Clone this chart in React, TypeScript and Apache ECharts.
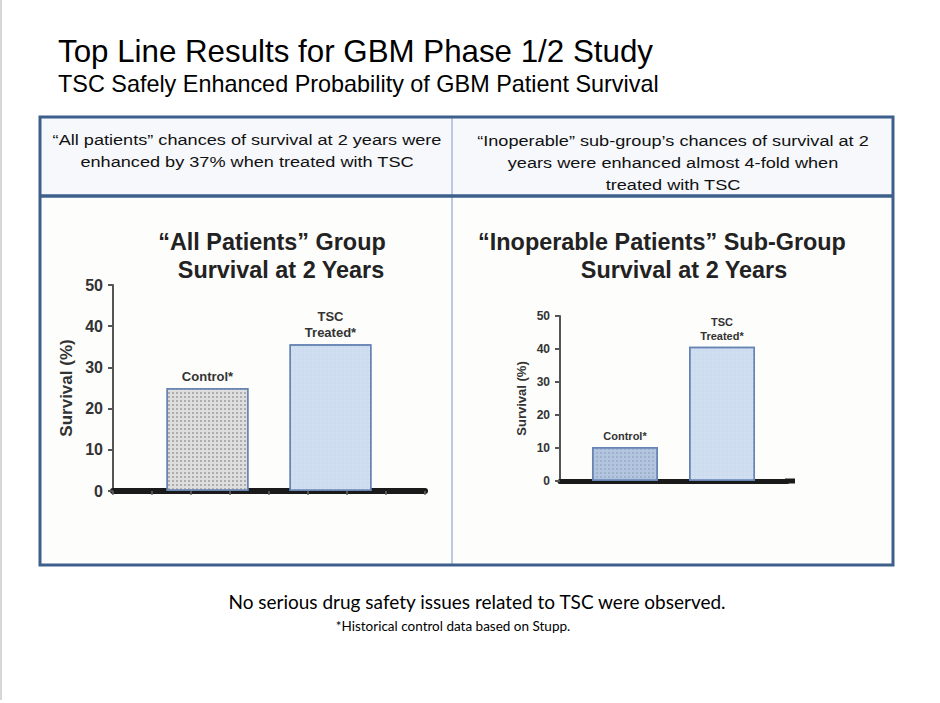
import React, { useEffect, useRef } from "react";
import * as echarts from "echarts";

const mainTitle = "Top Line Results for GBM Phase 1/2 Study";
const subTitle = "TSC Safely Enhanced Probability of GBM Patient Survival";
const headerLeft = ["“All patients” chances of survival at 2 years were", "enhanced by 37% when treated with TSC"];
const headerRight = ["“Inoperable” sub-group’s chances of survival at 2", "years were enhanced almost 4-fold when", "treated with TSC"];
const chart1Title = ["“All Patients” Group", "Survival at 2 Years"];
const chart2Title = ["“Inoperable Patients” Sub-Group", "Survival at 2 Years"];
const groups = ["Control*", "TSC\nTreated*"];
const allPatients = [25, 35.6];
const inoperable = [10.3, 40.7];
const yTicks = [0, 10, 20, 30, 40, 50];
const yName = "Survival (%)";
const footer = "No serious drug safety issues related to TSC were observed.";
const footnote = "*Historical control data based on Stupp.";

const FONT = "Liberation Sans, Arial, sans-serif";
const FOOT_FONT = "Lato, 'Open Sans', sans-serif";
const BORDER = "#3d5f8b";

export default function App() {
  const ref = useRef<HTMLDivElement>(null);
  useEffect(() => {
    if (!ref.current) return;
    const chart = echarts.init(ref.current, null, { renderer: "svg" });
    const yMin = yTicks[0];
    const yMax = yTicks[yTicks.length - 1];
    const yInt = yTicks[1] - yTicks[0];

    const checker = (color: string) => ({
      symbol: "rect",
      symbolSize: 1,
      dashArrayX: [2, 2],
      dashArrayY: [2, 2],
      rotation: 0,
      color,
    });

    const makeSeries = (
      values: number[],
      gi: number,
      barWidth: number,
      fontSize: number,
      controlFill: string,
      controlDecal: string,
      tscFill: string
    ) =>
      groups.map((g, i) => ({
        type: "bar",
        name: g,
        xAxisIndex: gi * 2,
        yAxisIndex: gi,
        data: [values[i]],
        barWidth,
        barGap: gi === 0 ? "50%" : "47%",
        itemStyle: {
          color: i === 0 ? controlFill : tscFill,
          borderColor: "#6784b3",
          borderWidth: 1.5,
          decal: i === 0 ? checker(controlDecal) : checker("rgba(255,255,255,0.12)"),
        },
        label: {
          show: true,
          position: "top",
          distance: 4,
          formatter: g,
          fontFamily: FONT,
          fontWeight: "bold",
          fontSize,
          lineHeight: fontSize + 3,
          color: "#333",
        },
      }));

    const yAxisCommon = (fontSize: number, nameSize: number, nameGap: number) => ({
      type: "value",
      min: yMin,
      max: yMax,
      interval: yInt,
      name: yName,
      nameLocation: "middle",
      nameRotate: 90,
      nameGap,
      nameTextStyle: { fontFamily: FONT, fontWeight: "bold", fontSize: nameSize, color: "#333" },
      axisLine: { show: true, lineStyle: { color: "#555", width: 2 } },
      axisTick: { show: true, length: 5, lineStyle: { color: "#555", width: 2 } },
      axisLabel: { fontFamily: FONT, fontWeight: "bold", fontSize, color: "#333", margin: 10 },
      splitLine: { show: false },
    });

    const option: any = {
      animation: false,
      backgroundColor: "#ffffff",
      grid: [
        { left: 113, top: 285, width: 312, height: 206 },
        { left: 560, top: 316, width: 227, height: 165 },
      ],
      xAxis: [
        {
          type: "category",
          gridIndex: 0,
          data: [""],
          axisLine: { lineStyle: { color: "#1a1a1a", width: 6 } },
          axisTick: { show: false },
          axisLabel: { show: false },
        },
        {
          type: "value",
          gridIndex: 0,
          min: 0,
          max: 8,
          interval: 1,
          position: "bottom",
          axisLine: { show: false },
          axisTick: { show: true, length: 4, lineStyle: { color: "#666", width: 1.5 } },
          axisLabel: { show: false },
          splitLine: { show: false },
        },
        {
          type: "category",
          gridIndex: 1,
          data: [""],
          axisLine: { lineStyle: { color: "#1a1a1a", width: 5 } },
          axisTick: { show: false },
          axisLabel: { show: false },
        },
      ],
      yAxis: [
        { gridIndex: 0, ...yAxisCommon(16, 17, 38) },
        { gridIndex: 1, ...yAxisCommon(12, 13, 32) },
      ],
      series: [
        ...makeSeries(allPatients, 0, 82, 13, "#dedede", "rgba(140,140,140,0.6)", "#cddcef"),
        ...makeSeries(inoperable, 1, 66, 11, "#b3c5de", "rgba(120,140,170,0.35)", "#cddcef"),
      ],
      graphic: [
        { type: "line", shape: { x1: 1, y1: 0, x2: 1, y2: 700 }, style: { stroke: "#d6d6d6", lineWidth: 2 } },
        { type: "text", left: 58, top: 36, style: { text: mainTitle, font: `31.3px ${FONT}`, fill: "#000" } },
        { type: "text", left: 58, top: 72, style: { text: subTitle, font: `23.4px ${FONT}`, fill: "#000" } },
        { type: "rect", shape: { x: 40, y: 117, width: 853, height: 79 }, style: { fill: "#f6f8fc", stroke: "none" } },
        { type: "rect", shape: { x: 40, y: 196, width: 853, height: 369 }, style: { fill: "#fdfdfc", stroke: "none" }, z: -1 },
        // extension of the right chart's baseline
        { type: "rect", shape: { x: 785, y: 478.5, width: 10, height: 5 }, style: { fill: "#1a1a1a" } },
        { type: "line", shape: { x1: 452, y1: 118, x2: 452, y2: 565 }, style: { stroke: "#a3bad8", lineWidth: 1.5 } },
        { type: "rect", shape: { x: 40, y: 117, width: 853, height: 448 }, style: { fill: "none", stroke: BORDER, lineWidth: 3 } },
        { type: "line", shape: { x1: 40, y1: 196, x2: 893, y2: 196 }, style: { stroke: BORDER, lineWidth: 3.5 } },
        ...headerLeft.map((t, i) => ({
          type: "text", x: 247, y: 140 + i * 22, scaleX: 1.21,
          style: { text: t, font: `15px ${FONT}`, fill: "#111", align: "center", verticalAlign: "middle" },
        })),
        ...headerRight.map((t, i) => ({
          type: "text", x: 673, y: 141 + i * 22, scaleX: 1.21,
          style: { text: t, font: `15px ${FONT}`, fill: "#111", align: "center", verticalAlign: "middle" },
        })),
        {
          type: "text", x: 272, y: 242,
          style: { text: chart1Title[0], font: `bold 23.4px ${FONT}`, fill: "#222", align: "center", verticalAlign: "middle" },
        },
        {
          type: "text", x: 281, y: 270,
          style: { text: chart1Title[1], font: `bold 23.4px ${FONT}`, fill: "#222", align: "center", verticalAlign: "middle" },
        },
        {
          type: "text", x: 662, y: 242,
          style: { text: chart2Title[0], font: `bold 23.4px ${FONT}`, fill: "#222", align: "center", verticalAlign: "middle" },
        },
        {
          type: "text", x: 684, y: 270,
          style: { text: chart2Title[1], font: `bold 23.4px ${FONT}`, fill: "#222", align: "center", verticalAlign: "middle" },
        },
        {
          type: "text", x: 477, y: 601,
          style: { text: footer, font: `19px ${FOOT_FONT}`, fill: "#000", align: "center", verticalAlign: "middle" },
        },
        {
          type: "text", x: 453, y: 626,
          style: { text: footnote, font: `13.5px ${FOOT_FONT}`, fill: "#000", align: "center", verticalAlign: "middle" },
        },
      ],
    };
    chart.setOption(option);
    return () => chart.dispose();
  }, []);
  return (
    <div
      ref={ref}
      style={{ position: "fixed", left: 0, top: 0, width: 940, height: 703 }}
    />
  );
}
